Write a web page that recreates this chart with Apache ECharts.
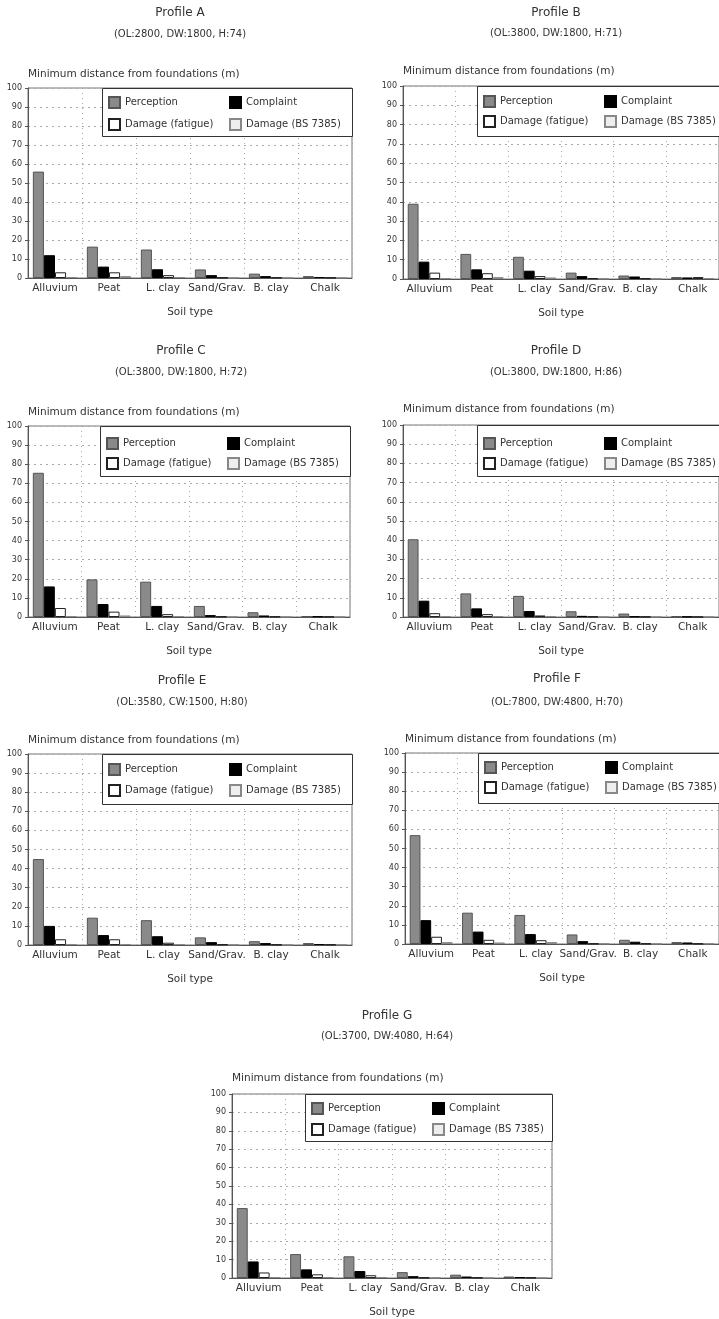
<!DOCTYPE html>
<html>
<head>
<meta charset="utf-8">
<script src="https://cdn.jsdelivr.net/npm/echarts@6/dist/echarts.min.js"></script>
<style>
html,body{margin:0;padding:0;background:#fff}
#main{width:719px;height:1319px}
</style>
</head>
<body>
<div id="main"></div>
<script>
// soil categories and panel labels
var categories = ['Alluvium', 'Peat', 'L. clay', 'Sand/Grav.', 'B. clay', 'Chalk']
var profiles = ['Profile A', 'Profile B', 'Profile C', 'Profile D', 'Profile E', 'Profile F', 'Profile G']
var params = ['(OL:2800, DW:1800, H:74)', '(OL:3800, DW:1800, H:71)', '(OL:3800, DW:1800, H:72)',
    '(OL:3800, DW:1800, H:86)', '(OL:3580, CW:1500, H:80)', '(OL:7800, DW:4800, H:70)', '(OL:3700, DW:4080, H:64)']
var seriesNames = ['Perception', 'Complaint', 'Damage (fatigue)', 'Damage (BS 7385)']
var yTicks = [0, 10, 20, 30, 40, 50, 60, 70, 80, 90, 100]

// minimum distance (m), one row per profile A..G
var perception = [
    [56, 16.5, 15, 4.5, 2.3, 1],
    [39, 13, 11.5, 3.3, 1.8, 1],
    [75.5, 19.7, 18.5, 5.8, 2.5, 0.5],
    [40.5, 12.3, 11, 3, 1.8, 0.5],
    [45, 14.3, 13, 4, 2, 1],
    [57, 16.4, 15.2, 5, 2.2, 1],
    [38, 13, 11.8, 3.2, 1.8, 0.8]
]
var complaint = [
    [12, 6, 4.6, 1.5, 1, 0.5],
    [9, 5, 4.3, 1.5, 1.3, 0.8],
    [16, 6.8, 5.8, 1, 0.8, 0.3],
    [8.5, 4.5, 3.1, 0.6, 0.3, 0.2],
    [10, 5.2, 4.6, 1.5, 1, 0.5],
    [12.5, 6.5, 5.2, 1.5, 1.2, 0.8],
    [9, 4.7, 3.8, 1, 0.8, 0.5]
]
var fatigue = [
    [3, 3, 1.5, 0.3, 0.3, 0.2],
    [3.3, 3, 1.5, 0.5, 0.4, 1],
    [4.7, 2.8, 1.5, 0.3, 0.3, 0.2],
    [2, 1.5, 0.8, 0.3, 0.2, 0.1],
    [3, 3, 1.2, 0.4, 0.3, 0.3],
    [3.8, 2.2, 2, 0.3, 0.3, 0.3],
    [3, 2, 1.5, 0.3, 0.3, 0.3]
]
var bs7385 = [
    [0.5, 1, 0.5, 0.1, 0.1, 0.1],
    [0.5, 1, 0.8, 0.2, 0.2, 0.5],
    [0.5, 0.8, 0.5, 0.1, 0.1, 0.1],
    [0.5, 0.5, 0.5, 0.1, 0.1, 0.1],
    [0.5, 0.5, 0.5, 0.2, 0.1, 0.2],
    [1, 0.8, 1, 0.2, 0.2, 0.3],
    [0.5, 0.5, 0.5, 0.1, 0.1, 0.1]
]
var allData = [perception, complaint, fatigue, bs7385]

// panel placement (px): plot box, title centre / rows, y-name row, legend box
var panels = [
    {x: 28, y: 88, w: 324, h: 190, cx: 180, ty: 14, sy: 35, ny: 75, lx: 102, lw: 250, lh: 48, r1: 14, r2: 36},
    {x: 403, y: 86, w: 324, h: 193, cx: 556, ty: 14, sy: 34, ny: 72, lx: 477, lw: 260, lh: 50, r1: 15, r2: 35},
    {x: 28, y: 426, w: 322, h: 191, cx: 181, ty: 352, sy: 373, ny: 413, lx: 100, lw: 250, lh: 50, r1: 17, r2: 37},
    {x: 403, y: 425, w: 324, h: 192, cx: 556, ty: 352, sy: 373, ny: 410, lx: 477, lw: 260, lh: 51, r1: 18, r2: 38},
    {x: 28, y: 754, w: 324, h: 191, cx: 182, ty: 682, sy: 703, ny: 741, lx: 102, lw: 250, lh: 50, r1: 15, r2: 36},
    {x: 405, y: 753, w: 322, h: 191, cx: 557, ty: 680, sy: 703, ny: 740, lx: 478, lw: 260, lh: 50, r1: 14, r2: 34},
    {x: 232, y: 1094, w: 320, h: 190, cx: 387, ty: 1017, sy: 1037, ny: 1079, lx: 305, lw: 247, lh: 47, r1: 14, r2: 35}
]

var styles = [
    {color: '#8a8a8a', borderColor: '#555', borderWidth: 1},
    {color: '#000', borderColor: '#000', borderWidth: 1},
    {color: '#fff', borderColor: '#222', borderWidth: 1},
    {color: '#eeeeee', borderColor: '#888', borderWidth: 1}
]

var font = 'DejaVu Sans'
var txt = '#333'

var option = {
    animation: false,
    backgroundColor: '#fff',
    title: [], grid: [], xAxis: [], yAxis: [], legend: [], series: [],
    graphic: []
}

panels.forEach(function (p, i) {
    option.title.push({
        text: profiles[i], left: p.cx, top: p.ty - 7, textAlign: 'center', padding: 0,
        textStyle: {fontSize: 12, fontWeight: 'normal', color: txt, fontFamily: font}
    })
    option.title.push({
        text: params[i], left: p.cx, top: p.sy - 6, textAlign: 'center', padding: 0,
        textStyle: {fontSize: 10, fontWeight: 'normal', color: txt, fontFamily: font}
    })
    option.grid.push({
        left: p.x, top: p.y, width: p.w, height: p.h,
        show: true, borderColor: '#777', borderWidth: 1
    })
    option.xAxis.push({
        type: 'category', gridIndex: i, data: categories,
        name: 'Soil type', nameLocation: 'middle', nameGap: 29,
        nameTextStyle: {fontSize: 10.5, color: txt, fontFamily: font},
        axisLine: {lineStyle: {color: '#555'}},
        axisTick: {show: false},
        axisLabel: {interval: 0, margin: 5, fontSize: 10.5, color: txt, fontFamily: font},
        splitLine: {show: true, lineStyle: {color: '#aaa', type: [1, 4]}}
    })
    option.yAxis.push({
        type: 'value', gridIndex: i, min: yTicks[0], max: yTicks[yTicks.length - 1], interval: yTicks[1] - yTicks[0],
        name: 'Minimum distance from foundations (m)', nameLocation: 'end', nameGap: p.y - p.ny - 5,
        nameTextStyle: {align: 'left', fontSize: 10.5, color: txt, fontFamily: font},
        axisLine: {show: true, lineStyle: {color: '#555'}},
        axisTick: {show: true, length: 3, lineStyle: {color: '#555'}},
        axisLabel: {margin: 6, fontSize: 8, color: txt, fontFamily: font},
        splitLine: {show: true, lineStyle: {color: '#aaa', type: [2, 4]}}
    })
    seriesNames.forEach(function (name, k) {
        option.series.push({
            type: 'bar', name: name, xAxisIndex: i, yAxisIndex: i,
            data: allData[k][i], barGap: '0%', barCategoryGap: '18%',
            itemStyle: styles[k], z: 2
        })
        var col = k % 2, row = Math.floor(k / 2)
        option.legend.push({
            data: [name], left: p.lx + 6 + col * 121, top: p.y + (row ? p.r2 : p.r1) - 6,
            icon: 'rect', itemWidth: 11, itemHeight: 11, padding: 0, selectedMode: false, z: 6,
            textStyle: {fontSize: 10, color: txt, fontFamily: font}
        })
    })
    option.graphic.push({
        type: 'rect', z: 4,
        shape: {x: p.lx + 0.5, y: p.y + 0.5, width: p.lw, height: p.lh},
        style: {fill: '#fff', stroke: '#333', lineWidth: 1}
    })
})

var chart = echarts.init(document.getElementById('main'))
chart.setOption(option)
</script>
</body>
</html>
